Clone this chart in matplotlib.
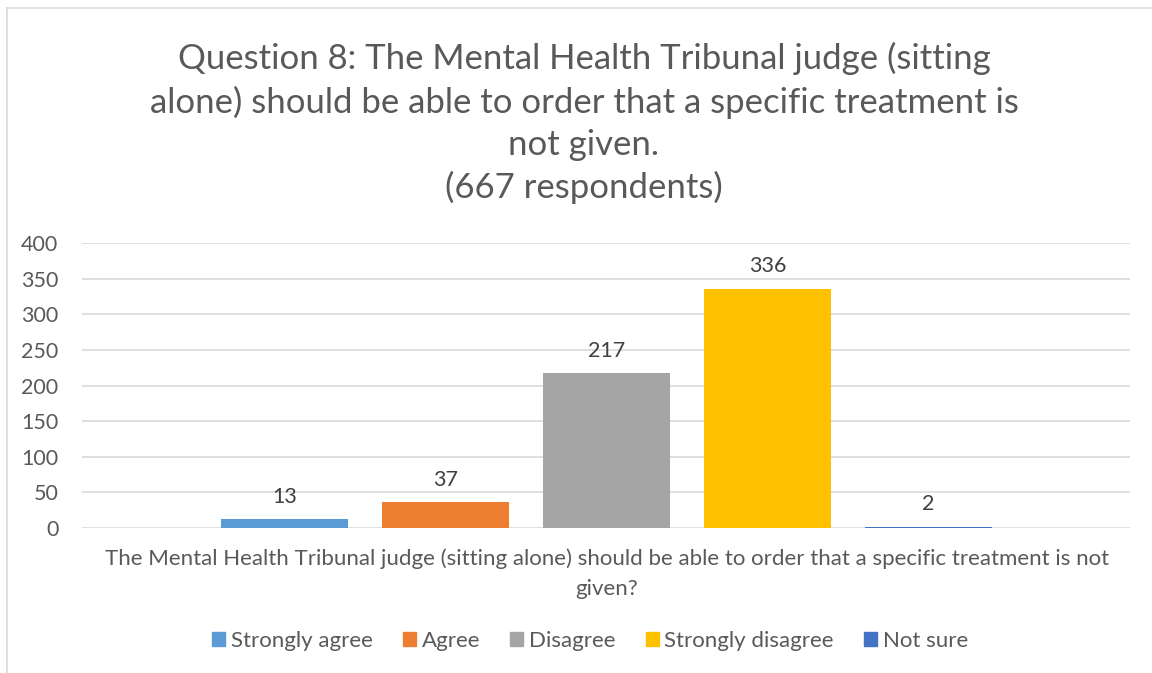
import matplotlib.pyplot as plt
from matplotlib.lines import Line2D

series = ['Strongly agree', 'Agree', 'Disagree', 'Strongly disagree', 'Not sure']
values = [13, 37, 217, 336, 2]
colors = ['#5B9BD5', '#ED7D31', '#A5A5A5', '#FFC000', '#4472C4']
yticks = [0, 50, 100, 150, 200, 250, 300, 350, 400]

title = ('Question 8: The Mental Health Tribunal judge (sitting\n'
         'alone) should be able to order that a specific treatment is\n'
         'not given.\n(667 respondents)')
xlabel = ('The Mental Health Tribunal judge (sitting alone) should be able to order that a specific treatment is not\n'
          'given?')

plt.rcParams['font.family'] = ['Lato', 'DejaVu Sans']
txt = '#595959'

W, H = 1152, 673
fig = plt.figure(figsize=(W / 100, H / 100), dpi=100)

# outer chart border (only left and top visible)
fig.add_artist(Line2D([7 / W, 7 / W], [0, 1 - 8 / H], color='#D9D9D9', lw=1.2))
fig.add_artist(Line2D([7 / W, 1], [1 - 8 / H, 1 - 8 / H], color='#D9D9D9', lw=1.2))

ax = fig.add_axes([82 / W, 1 - 528 / H, (1130 - 82) / W, (528 - 243) / H])
x = list(range(len(values)))
ax.bar(x, values, width=0.79, color=colors, zorder=3)
for xi, v in zip(x, values):
    ax.text(xi, v + 17, str(v), ha='center', va='bottom', fontsize=15.5, color='#404040')

ax.set_xlim(-1.258, 5.252)
ax.set_ylim(0, 400)
ax.set_yticks(yticks)
ax.set_xticks([])
ax.yaxis.grid(True, color='#D9D9D9', lw=1.2, zorder=0)
for s in ax.spines.values():
    s.set_visible(False)
ax.tick_params(axis='y', length=0, labelsize=15.5, labelcolor=txt, pad=17)

fig.text(607 / W, 1 - 574 / H, xlabel, ha='center', va='center', fontsize=16,
         color=txt, linespacing=1.65)
fig.text(584 / W, 1 - 123 / H, title, ha='center', va='center', fontsize=25,
         color=txt, linespacing=1.38)

handles = [plt.Rectangle((0, 0), 1, 1, color=c) for c in colors]
fig.legend(handles, series, loc='center', bbox_to_anchor=(590 / W, 1 - 641 / H),
           ncol=5, frameon=False, fontsize=16, labelcolor=txt,
           handlelength=0.6, handleheight=0.6, handletextpad=0.25, columnspacing=1.35)

fig.savefig('out.png', dpi=100)
